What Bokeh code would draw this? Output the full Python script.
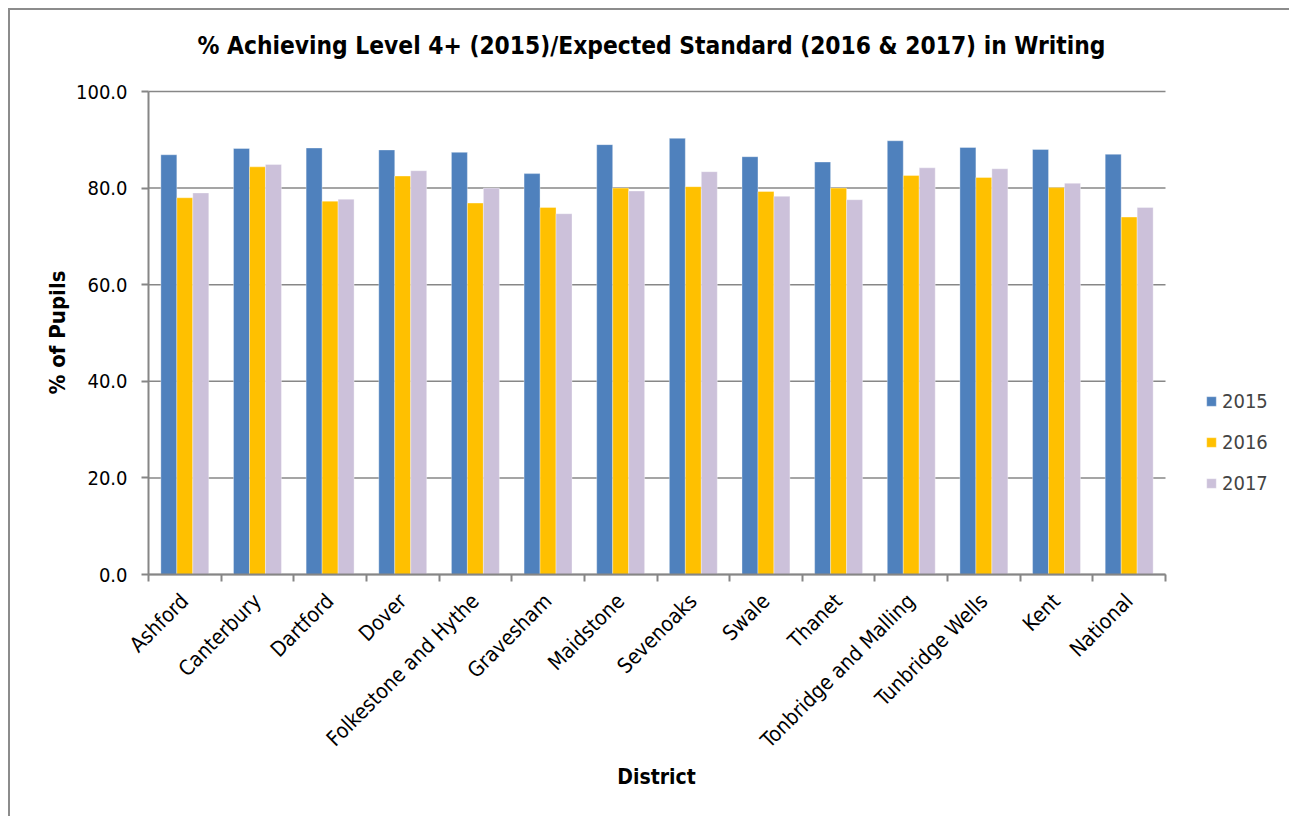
import numpy as np
from bokeh.plotting import figure
from bokeh.models import (ColumnDataSource, FixedTicker, Range1d, Legend, LegendItem,
                          NumeralTickFormatter, Label)
from bokeh.transform import dodge
from bokeh.embed import file_html
from bokeh.resources import INLINE

categories = ["Ashford", "Canterbury", "Dartford", "Dover", "Folkestone and Hythe",
              "Gravesham", "Maidstone", "Sevenoaks", "Swale", "Thanet",
              "Tonbridge and Malling", "Tunbridge Wells", "Kent", "National"]
v2015 = [86.9, 88.2, 88.3, 87.9, 87.4, 83.0, 89.0, 90.3, 86.5, 85.4, 89.8, 88.4, 88.0, 87.0]
v2016 = [78.0, 84.4, 77.3, 82.5, 76.9, 76.0, 80.0, 80.3, 79.3, 80.0, 82.6, 82.2, 80.1, 74.0]
v2017 = [79.0, 84.9, 77.7, 83.6, 80.0, 74.7, 79.4, 83.4, 78.3, 77.6, 84.2, 84.0, 81.0, 76.0]
series_names = ["2015", "2016", "2017"]
y_ticks = [0, 20, 40, 60, 80, 100]
title_text = "% Achieving Level 4+ (2015)/Expected Standard (2016 & 2017) in Writing"
x_title = "District"
y_title = "% of Pupils"

FONT = "DejaVu Sans Condensed"
colors = ["#4F81BD", "#FFC000", "#CCC1DA"]
GRID = "#878787"
AXIS = "#868686"

n = len(categories)
Y_MAX = 100
centers = [i + 0.5 for i in range(n)]
boundaries = list(range(n + 1))

# ---- layout (page pixels) ----
CANVAS_L, CANVAS_T, CANVAS_R, CANVAS_B = 10, 10, 1289, 816
PLOT_L, PLOT_R, PLOT_T, PLOT_B = 148, 1165, 91, 574
sx = (PLOT_R - PLOT_L) / n          # px per category
sy = (PLOT_B - PLOT_T) / Y_MAX      # px per percent
x_start = -(PLOT_L - CANVAS_L) / sx
x_end = n + (CANVAS_R - PLOT_R) / sx
y_start = -(CANVAS_B - PLOT_B) / sy
y_end = Y_MAX + (PLOT_T - CANVAS_T) / sy

def px_x(px):
    return (px - PLOT_L) / sx

def px_y(py):
    return (PLOT_B - py) / sy

src = ColumnDataSource(dict(x=centers, cat=categories, y15=v2015, y16=v2016, y17=v2017))
grid_src = ColumnDataSource(dict(y=y_ticks, x0=[0] * len(y_ticks), x1=[n] * len(y_ticks)))

p = figure(frame_width=CANVAS_R - CANVAS_L, frame_height=CANVAS_B - CANVAS_T,
           x_range=Range1d(x_start, x_end), y_range=Range1d(y_start, y_end),
           output_backend="svg", toolbar_location=None,
           min_border=0)
p.styles = {"border-left": "2px solid #8C8C8C", "border-top": "2px solid #8C8C8C",
            "margin-left": "8px", "margin-top": "8px"}

# horizontal gridlines limited to the plot area
p.segment(x0="x0", x1="x1", y0="y", y1="y", source=grid_src,
          line_color=GRID, line_width=1.5)

bw = 0.22
rs = []
for off, col, c in zip([-bw, 0, bw], ["y15", "y16", "y17"], colors):
    r = p.vbar(x=dodge("x", off), top=col, width=bw, source=src,
               fill_color=c, line_color="white", line_alpha=0.35, line_width=1)
    rs.append(r)

p.outline_line_color = None
p.background_fill_color = "white"
p.border_fill_color = "white"
p.xgrid.visible = False
p.ygrid.visible = False

# x axis (drawn at y = 0)
xa = p.xaxis[0]
xa.fixed_location = 0
xa.bounds = (0, n)
xa.ticker = FixedTicker(ticks=centers, minor_ticks=boundaries)
xa.major_label_overrides = {float(c): nm for c, nm in zip(centers, categories)}
xa.major_tick_out = 0
xa.major_tick_in = 0
xa.minor_tick_out = 7
xa.minor_tick_in = 0
xa.minor_tick_line_color = AXIS
xa.minor_tick_line_width = 2
xa.axis_line_color = AXIS
xa.axis_line_width = 2
xa.major_label_orientation = np.pi / 4
xa.major_label_text_font = FONT
xa.major_label_text_font_size = "21px"
xa.major_label_text_color = "black"
xa.major_label_standoff = 16

# y axis (drawn at x = 0)
ya = p.yaxis[0]
ya.fixed_location = 0
ya.bounds = (0, Y_MAX)
ya.ticker = FixedTicker(ticks=y_ticks)
ya.formatter = NumeralTickFormatter(format="0.0")
ya.major_tick_out = 7
ya.major_tick_in = 0
ya.minor_tick_line_color = None
ya.major_tick_line_color = AXIS
ya.major_tick_line_width = 2
ya.axis_line_color = AXIS
ya.axis_line_width = 2
ya.major_label_text_font = FONT
ya.major_label_text_font_size = "20px"
ya.major_label_text_color = "black"
ya.major_label_standoff = 14

# titles
p.add_layout(Label(x=px_x(651), y=px_y(45), text=title_text, text_font=FONT,
                   text_font_size="24.3px", text_font_style="bold", text_color="black",
                   text_align="center", text_baseline="middle"))
p.add_layout(Label(x=px_x(656), y=px_y(776), text=x_title, text_font=FONT,
                   text_font_size="21px", text_font_style="bold", text_color="black",
                   text_align="center", text_baseline="middle"))
p.add_layout(Label(x=px_x(57), y=px_y(332), text=y_title, text_font=FONT,
                   text_font_size="22px", text_font_style="bold", text_color="black",
                   text_align="center", text_baseline="middle", angle=np.pi / 2))

legend = Legend(items=[LegendItem(label=nm, renderers=[r]) for nm, r in zip(series_names, rs)],
                location=(1205 - CANVAS_L, CANVAS_B - 495), glyph_width=12, glyph_height=12,
                label_text_font=FONT, label_text_font_size="20px",
                label_height=20, spacing=17, padding=0, margin=0,
                label_standoff=5, border_line_color=None, background_fill_alpha=0)
p.add_layout(legend, "center")

open("out.html", "w").write(file_html(p, INLINE))
